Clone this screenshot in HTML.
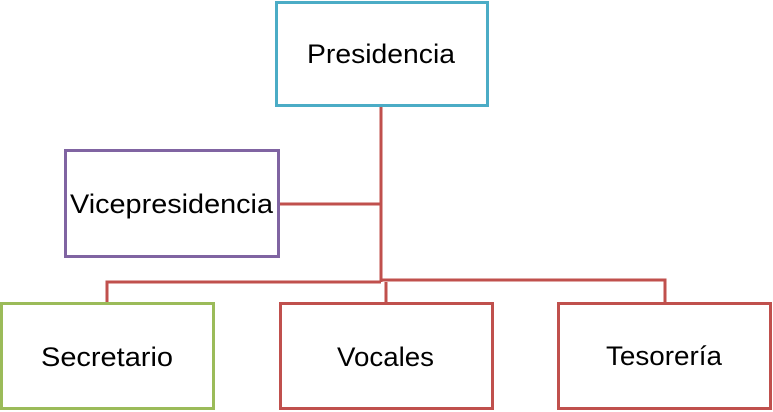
<!DOCTYPE html>
<html><head><meta charset="utf-8"><style>html,body{margin:0;padding:0;background:#fff;}svg{display:block}</style></head>
<body>
<svg width="773" height="412" xmlns="http://www.w3.org/2000/svg" font-family="Liberation Sans, sans-serif" font-size="27" fill="#000">
<g stroke="#c0504d" stroke-width="3" fill="none">
<line x1="381" y1="106" x2="381" y2="282"/>
<line x1="279" y1="204" x2="381" y2="204"/>
<polyline points="107,303 107,282 381,282"/>
<polyline points="386,303 386,282"/>
<polyline points="381,280 665,280 665,303"/>
</g>
<rect x="276.5" y="2.5" width="211" height="103" fill="#fff" stroke="#4bacc6" stroke-width="3"/>
<rect x="65.5" y="150.5" width="213" height="106" fill="#fff" stroke="#8064a2" stroke-width="3"/>
<rect x="1.5" y="303.5" width="212" height="105" fill="#fff" stroke="#9bbb59" stroke-width="3"/>
<rect x="280.5" y="303.5" width="212" height="105" fill="#fff" stroke="#c0504d" stroke-width="3"/>
<rect x="558.5" y="303.5" width="212" height="105" fill="#fff" stroke="#c0504d" stroke-width="3"/>
<g stroke="none">
<text x="307" y="63" textLength="148" lengthAdjust="spacingAndGlyphs">Presidencia</text>
<text x="70" y="213" textLength="203" lengthAdjust="spacingAndGlyphs">Vicepresidencia</text>
<text x="41" y="366" textLength="132" lengthAdjust="spacingAndGlyphs">Secretario</text>
<text x="337" y="366" textLength="97" lengthAdjust="spacingAndGlyphs">Vocales</text>
<text x="606" y="365" textLength="116" lengthAdjust="spacingAndGlyphs">Tesorería</text>
</g>
</svg>
</body></html>
